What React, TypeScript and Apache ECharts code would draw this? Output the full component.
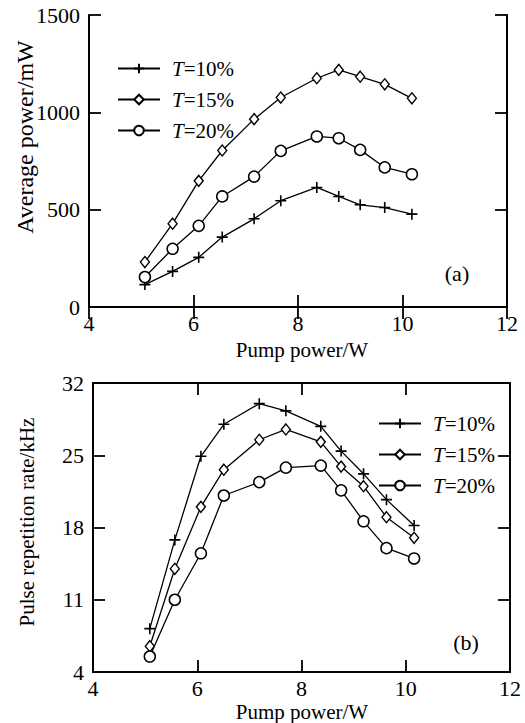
import React, { useEffect, useRef } from "react";
import * as echarts from "echarts";

const seriesNames = ["T=10%", "T=15%", "T=20%"];

const pumpA = [5.07, 5.6, 6.1, 6.55, 7.16, 7.67, 8.36, 8.78, 9.19, 9.66, 10.18];
const avg10 = [115, 183, 255, 359, 453, 546, 614, 568, 525, 511, 477];
const avg15 = [231, 428, 648, 804, 965, 1076, 1175, 1218, 1183, 1144, 1072];
const avg20 = [154, 299, 417, 568, 670, 802, 876, 867, 807, 717, 682];

const pumpB = [5.09, 5.57, 6.07, 6.51, 7.19, 7.7, 8.37, 8.76, 9.19, 9.63, 10.16];
const rep10 = [8.2, 16.8, 24.9, 28.0, 30.0, 29.3, 27.8, 25.4, 23.2, 20.7, 18.2];
const rep15 = [6.5, 14.0, 20.0, 23.6, 26.5, 27.5, 26.3, 23.9, 22.0, 19.0, 17.0];
const rep20 = [5.5, 11.0, 15.5, 21.1, 22.4, 23.8, 24.0, 21.6, 18.6, 16.0, 15.0];

const FONT = "Liberation Serif, Times New Roman, serif";
const PLUS = "path://M0,5L10,5M5,0L5,10";

export default function App() {
  const ref = useRef<HTMLDivElement>(null);
  useEffect(() => {
    if (!ref.current) return;
    const chart = echarts.init(ref.current, undefined, { renderer: "svg" });

    const axisLine = { show: true, lineStyle: { color: "#000", width: 2 } };
    const axisTick = { show: true, inside: true, length: 12, lineStyle: { color: "#000", width: 1.8 } };
    const lbl = { color: "#000", fontFamily: FONT, fontSize: 22, formatter: (v: number) => String(v) };

    const mkX = (grid: number, pos: "bottom" | "top", labels: boolean) => ({
      type: "value",
      gridIndex: grid,
      position: pos,
      min: 4,
      max: 12,
      interval: 2,
      axisLine,
      axisTick,
      splitLine: { show: false },
      axisLabel: labels ? { ...lbl, margin: 5 } : { show: false },
    });
    const mkY = (grid: number, pos: "left" | "right", labels: boolean, min: number, max: number, interval: number) => ({
      type: "value",
      gridIndex: grid,
      position: pos,
      min,
      max,
      interval,
      axisLine,
      axisTick,
      splitLine: { show: false },
      axisLabel: labels ? { ...lbl, margin: 9 } : { show: false },
    });

    const styles = [
      { symbol: PLUS, symbolSize: 11, itemStyle: { color: "#000", borderColor: "#000", borderWidth: 1.6 } },
      { symbol: "diamond", symbolSize: [9, 11], itemStyle: { color: "#fff", borderColor: "#000", borderWidth: 1.4 } },
      { symbol: "circle", symbolSize: 11, itemStyle: { color: "#fff", borderColor: "#000", borderWidth: 1.5 } },
    ];

    const mkSeries = (name: string, xs: number[], ys: number[], idx: number, st: any) => ({
      type: "line",
      name,
      xAxisIndex: idx,
      yAxisIndex: idx,
      data: xs.map((x, i) => [x, ys[i]]),
      symbol: st.symbol,
      symbolSize: st.symbolSize,
      showSymbol: true,
      itemStyle: st.itemStyle,
      lineStyle: { color: "#000", width: 1.3 },
      z: 3,
    });

    const legendCommon = {
      orient: "vertical",
      itemWidth: 42,
      itemHeight: 12,
      itemGap: 10,
      data: seriesNames,
      selectedMode: false,
      formatter: (n: string) => `{i|T}{n|${n.slice(1)}}`,
      textStyle: {
        color: "#000",
        fontFamily: FONT,
        fontSize: 21,
        lineHeight: 13,
        rich: {
          i: { fontStyle: "italic", fontFamily: FONT, fontSize: 21, color: "#000", padding: [0, 0, 0, 7] },
          n: { fontFamily: FONT, fontSize: 21, color: "#000" },
        },
      },
    };

    const option: any = {
      animation: false,
      backgroundColor: "#fff",
      grid: [
        { left: 89, top: 15, width: 418, height: 292 },
        { left: 93, top: 383, width: 417, height: 289 },
      ],
      xAxis: [mkX(0, "bottom", true), mkX(1, "bottom", true), mkX(0, "top", false), mkX(1, "top", false)],
      yAxis: [
        mkY(0, "left", true, 0, 1500, 500),
        mkY(1, "left", true, 4, 32, 7),
        mkY(0, "right", false, 0, 1500, 500),
        mkY(1, "right", false, 4, 32, 7),
      ],
      legend: [
        { ...legendCommon, left: 112, top: 53 },
        { ...legendCommon, left: 373, top: 408 },
      ],
      series: [
        mkSeries(seriesNames[0], pumpA, avg10, 0, styles[0]),
        mkSeries(seriesNames[1], pumpA, avg15, 0, styles[1]),
        mkSeries(seriesNames[2], pumpA, avg20, 0, styles[2]),
        mkSeries(seriesNames[0], pumpB, rep10, 1, styles[0]),
        mkSeries(seriesNames[1], pumpB, rep15, 1, styles[1]),
        mkSeries(seriesNames[2], pumpB, rep20, 1, styles[2]),
      ],
      graphic: [
        { type: "text", x: 25, y: 137, rotation: Math.PI / 2, style: { text: "Average power/mW", font: `24px ${FONT}`, fill: "#000", textAlign: "center", textVerticalAlign: "middle" } },
        { type: "text", x: 27, y: 522, rotation: Math.PI / 2, style: { text: "Pulse repetition rate/kHz", font: `21px ${FONT}`, fill: "#000", textAlign: "center", textVerticalAlign: "middle" } },
        { type: "text", x: 302, y: 350, style: { text: "Pump power/W", font: `21px ${FONT}`, fill: "#000", textAlign: "center", textVerticalAlign: "middle" } },
        { type: "text", x: 302, y: 712, style: { text: "Pump power/W", font: `21px ${FONT}`, fill: "#000", textAlign: "center", textVerticalAlign: "middle" } },
        { type: "text", x: 457, y: 273, style: { text: "(a)", font: `22px ${FONT}`, fill: "#000", textAlign: "center", textVerticalAlign: "middle" } },
        { type: "text", x: 466, y: 642, style: { text: "(b)", font: `22px ${FONT}`, fill: "#000", textAlign: "center", textVerticalAlign: "middle" } },
      ],
    };
    chart.setOption(option);
    return () => chart.dispose();
  }, []);
  return <div ref={ref} style={{ position: "fixed", left: 0, top: 0, width: 525, height: 723, background: "#fff" }} />;
}
